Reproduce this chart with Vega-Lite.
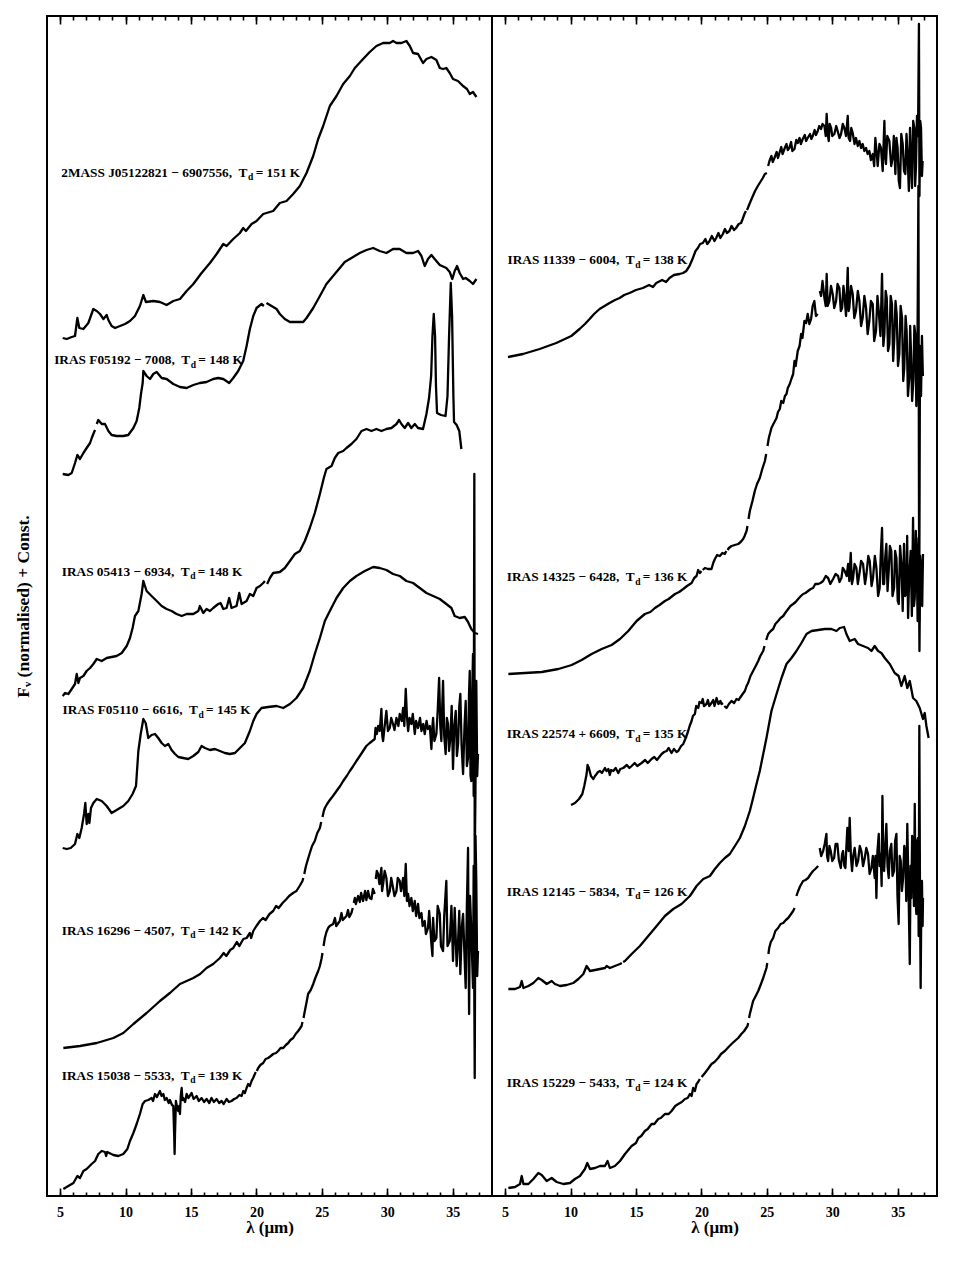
{
"$schema": "https://vega.github.io/schema/vega-lite/v6.json",
"background": "white",
"padding": {"left": 13, "top": 14, "right": 16, "bottom": 30},
"spacing": 0,
"bounds": "flush",
"config": {
  "view": {"stroke": "black", "strokeWidth": 2},
  "font": "Liberation Serif",
  "axis": {"grid": false, "domain": false, "ticks": true, "tickColor": "black", "tickWidth": 1.6, "labelFont": "Liberation Serif", "labelFontWeight": "bold", "labelFontSize": 14, "labelColor": "black", "titleFont": "Liberation Serif", "titleFontWeight": "bold", "titleColor": "black"}
},
"datasets": {
"left": [
{"s":"L1","x":5.2,"y":858},{"s":"L1","x":5.51,"y":857},{"s":"L1","x":5.89,"y":859},{"s":"L1","x":6.14,"y":860},{"s":"L1","x":6.32,"y":878},{"s":"L1","x":6.47,"y":868},{"s":"L1","x":6.78,"y":867},{"s":"L1","x":7.16,"y":873},{"s":"L1","x":7.54,"y":887},{"s":"L1","x":7.8,"y":885},{"s":"L1","x":8.05,"y":882},{"s":"L1","x":8.31,"y":877},{"s":"L1","x":8.56,"y":881},{"s":"L1","x":8.69,"y":876},{"s":"L1","x":8.94,"y":870},{"s":"L1","x":9.2,"y":868},{"s":"L1","x":9.58,"y":870},{"s":"L1","x":9.96,"y":872},{"s":"L1","x":10.34,"y":875},{"s":"L1","x":10.72,"y":880},{"s":"L1","x":11.1,"y":890},{"s":"L1","x":11.36,"y":901},{"s":"L1","x":11.56,"y":894},{"s":"L1","x":12.12,"y":895},{"s":"L1","x":12.63,"y":894},{"s":"L1","x":13.14,"y":891},{"s":"L1","x":13.65,"y":895},{"s":"L1","x":14.16,"y":897},{"s":"L1","x":14.67,"y":905},{"s":"L1","x":15.18,"y":912},{"s":"L1","x":15.81,"y":923},{"s":"L1","x":16.45,"y":933},{"s":"L1","x":16.96,"y":942},{"s":"L1","x":17.47,"y":952},{"s":"L1","x":17.72,"y":950},{"s":"L1","x":18.23,"y":957},{"s":"L1","x":18.74,"y":963},{"s":"L1","x":18.99,"y":968},{"s":"L1","x":19.2,"y":965},{"s":"L1","x":19.63,"y":972},{"s":"L1","x":20.01,"y":975},{"s":"L1","x":20.52,"y":982},{"s":"L1","x":20.77,"y":983},{"s":"L1","x":21.28,"y":985},{"s":"L1","x":21.79,"y":993},{"s":"L1","x":22.3,"y":995},{"s":"L1","x":22.81,"y":1002},{"s":"L1","x":23.32,"y":1010},{"s":"L1","x":23.83,"y":1023},{"s":"L1","x":24.34,"y":1040},{"s":"L1","x":24.72,"y":1057},{"s":"L1","x":25.1,"y":1070},{"s":"L1","x":25.61,"y":1090},{"s":"L1","x":26.12,"y":1100},{"s":"L1","x":26.63,"y":1112},{"s":"L1","x":27.14,"y":1120},{"s":"L1","x":27.52,"y":1128},{"s":"L1","x":28.15,"y":1137},{"s":"L1","x":28.66,"y":1144},{"s":"L1","x":29.17,"y":1150},{"s":"L1","x":29.68,"y":1153},{"s":"L1","x":30.19,"y":1153},{"s":"L1","x":30.44,"y":1155},{"s":"L1","x":30.7,"y":1153},{"s":"L1","x":31.08,"y":1153},{"s":"L1","x":31.46,"y":1155},{"s":"L1","x":31.72,"y":1150},{"s":"L1","x":31.97,"y":1143},{"s":"L1","x":32.35,"y":1142},{"s":"L1","x":32.73,"y":1133},{"s":"L1","x":32.99,"y":1137},{"s":"L1","x":33.37,"y":1139},{"s":"L1","x":33.75,"y":1136},{"s":"L1","x":34.01,"y":1128},{"s":"L1","x":34.26,"y":1127},{"s":"L1","x":34.51,"y":1128},{"s":"L1","x":34.77,"y":1123},{"s":"L1","x":35.02,"y":1117},{"s":"L1","x":35.4,"y":1115},{"s":"L1","x":35.79,"y":1110},{"s":"L1","x":36.09,"y":1107},{"s":"L1","x":36.3,"y":1102},{"s":"L1","x":36.55,"y":1104},{"s":"L1","x":36.81,"y":1099},
{"s":"L2","x":5.2,"y":722},{"s":"L2","x":5.63,"y":721},{"s":"L2","x":5.89,"y":723},{"s":"L2","x":6.14,"y":733},{"s":"L2","x":6.32,"y":741},{"s":"L2","x":6.52,"y":737},{"s":"L2","x":6.78,"y":743},{"s":"L2","x":7.03,"y":748},{"s":"L2","x":7.29,"y":753},{"s":"L2","x":7.42,"y":758},{"s":"L2","x":7.54,"y":762},{"s":"L2","x":7.67,"y":766},{"s":"L2","x":7.73,"y":null},{"s":"L2","x":7.8,"y":772},{"s":"L2","x":7.92,"y":776},{"s":"L2","x":8.18,"y":772},{"s":"L2","x":8.43,"y":772},{"s":"L2","x":8.69,"y":765},{"s":"L2","x":8.94,"y":761},{"s":"L2","x":9.32,"y":760},{"s":"L2","x":9.83,"y":760},{"s":"L2","x":10.21,"y":761},{"s":"L2","x":10.6,"y":768},{"s":"L2","x":10.85,"y":775},{"s":"L2","x":11.05,"y":788},{"s":"L2","x":11.18,"y":802},{"s":"L2","x":11.31,"y":813},{"s":"L2","x":11.36,"y":825},{"s":"L2","x":11.61,"y":820},{"s":"L2","x":11.87,"y":817},{"s":"L2","x":12.12,"y":822},{"s":"L2","x":12.38,"y":824},{"s":"L2","x":12.76,"y":818},{"s":"L2","x":13.14,"y":817},{"s":"L2","x":13.65,"y":812},{"s":"L2","x":14.16,"y":809},{"s":"L2","x":14.67,"y":808},{"s":"L2","x":15.18,"y":811},{"s":"L2","x":15.68,"y":813},{"s":"L2","x":16.19,"y":814},{"s":"L2","x":16.7,"y":817},{"s":"L2","x":17.08,"y":818},{"s":"L2","x":17.47,"y":817},{"s":"L2","x":17.92,"y":813},{"s":"L2","x":18.23,"y":818},{"s":"L2","x":18.61,"y":825},{"s":"L2","x":18.99,"y":835},{"s":"L2","x":19.25,"y":850},{"s":"L2","x":19.5,"y":867},{"s":"L2","x":19.76,"y":880},{"s":"L2","x":20.01,"y":888},{"s":"L2","x":20.39,"y":892},{"s":"L2","x":20.57,"y":890},{"s":"L2","x":20.67,"y":null},{"s":"L2","x":20.77,"y":893},{"s":"L2","x":21.16,"y":890},{"s":"L2","x":21.54,"y":887},{"s":"L2","x":21.79,"y":882},{"s":"L2","x":22.17,"y":877},{"s":"L2","x":22.56,"y":874},{"s":"L2","x":23.06,"y":874},{"s":"L2","x":23.57,"y":874},{"s":"L2","x":23.83,"y":878},{"s":"L2","x":24.34,"y":888},{"s":"L2","x":24.85,"y":900},{"s":"L2","x":25.35,"y":912},{"s":"L2","x":25.86,"y":920},{"s":"L2","x":26.37,"y":928},{"s":"L2","x":26.75,"y":934},{"s":"L2","x":27.26,"y":938},{"s":"L2","x":27.9,"y":943},{"s":"L2","x":28.41,"y":946},{"s":"L2","x":28.92,"y":948},{"s":"L2","x":29.42,"y":945},{"s":"L2","x":29.93,"y":943},{"s":"L2","x":30.44,"y":947},{"s":"L2","x":30.95,"y":947},{"s":"L2","x":31.46,"y":943},{"s":"L2","x":31.97,"y":943},{"s":"L2","x":32.35,"y":945},{"s":"L2","x":32.61,"y":940},{"s":"L2","x":32.86,"y":930},{"s":"L2","x":33.11,"y":937},{"s":"L2","x":33.37,"y":941},{"s":"L2","x":33.62,"y":937},{"s":"L2","x":34.01,"y":931},{"s":"L2","x":34.51,"y":928},{"s":"L2","x":34.77,"y":924},{"s":"L2","x":34.97,"y":917},{"s":"L2","x":35.15,"y":925},{"s":"L2","x":35.33,"y":930},{"s":"L2","x":35.53,"y":923},{"s":"L2","x":35.79,"y":917},{"s":"L2","x":35.99,"y":918},{"s":"L2","x":36.3,"y":915},{"s":"L2","x":36.55,"y":912},{"s":"L2","x":36.81,"y":917},
{"s":"L3","x":5.2,"y":500},{"s":"L3","x":5.38,"y":503},{"s":"L3","x":5.63,"y":502},{"s":"L3","x":5.89,"y":507},{"s":"L3","x":6.14,"y":512},{"s":"L3","x":6.27,"y":522},{"s":"L3","x":6.4,"y":513},{"s":"L3","x":6.52,"y":518},{"s":"L3","x":6.78,"y":520},{"s":"L3","x":7.03,"y":525},{"s":"L3","x":7.29,"y":528},{"s":"L3","x":7.54,"y":532},{"s":"L3","x":7.8,"y":537},{"s":"L3","x":8.18,"y":535},{"s":"L3","x":8.56,"y":538},{"s":"L3","x":8.94,"y":539},{"s":"L3","x":9.32,"y":540},{"s":"L3","x":9.71,"y":543},{"s":"L3","x":10.09,"y":550},{"s":"L3","x":10.34,"y":558},{"s":"L3","x":10.54,"y":568},{"s":"L3","x":10.72,"y":580},{"s":"L3","x":10.98,"y":585},{"s":"L3","x":11.23,"y":602},{"s":"L3","x":11.36,"y":615},{"s":"L3","x":11.61,"y":605},{"s":"L3","x":11.99,"y":600},{"s":"L3","x":12.38,"y":595},{"s":"L3","x":12.76,"y":590},{"s":"L3","x":13.14,"y":587},{"s":"L3","x":13.52,"y":585},{"s":"L3","x":13.9,"y":582},{"s":"L3","x":14.29,"y":580},{"s":"L3","x":14.67,"y":582},{"s":"L3","x":15.18,"y":582},{"s":"L3","x":15.56,"y":585},{"s":"L3","x":15.68,"y":590},{"s":"L3","x":15.94,"y":583},{"s":"L3","x":16.19,"y":587},{"s":"L3","x":16.45,"y":585},{"s":"L3","x":16.7,"y":588},{"s":"L3","x":17.08,"y":592},{"s":"L3","x":17.26,"y":593},{"s":"L3","x":17.47,"y":587},{"s":"L3","x":17.72,"y":588},{"s":"L3","x":17.92,"y":598},{"s":"L3","x":18.1,"y":588},{"s":"L3","x":18.48,"y":590},{"s":"L3","x":18.69,"y":603},{"s":"L3","x":18.87,"y":592},{"s":"L3","x":19.25,"y":595},{"s":"L3","x":19.5,"y":602},{"s":"L3","x":19.76,"y":600},{"s":"L3","x":20.01,"y":608},{"s":"L3","x":20.27,"y":610},{"s":"L3","x":20.52,"y":613},{"s":"L3","x":20.65,"y":615},{"s":"L3","x":20.73,"y":null},{"s":"L3","x":20.82,"y":612},{"s":"L3","x":21.03,"y":618},{"s":"L3","x":21.28,"y":623},{"s":"L3","x":21.79,"y":624},{"s":"L3","x":22.17,"y":628},{"s":"L3","x":22.56,"y":635},{"s":"L3","x":22.94,"y":642},{"s":"L3","x":23.32,"y":645},{"s":"L3","x":23.7,"y":655},{"s":"L3","x":24.08,"y":668},{"s":"L3","x":24.46,"y":683},{"s":"L3","x":24.85,"y":702},{"s":"L3","x":25.15,"y":718},{"s":"L3","x":25.35,"y":727},{"s":"L3","x":25.74,"y":730},{"s":"L3","x":25.99,"y":738},{"s":"L3","x":26.25,"y":743},{"s":"L3","x":26.63,"y":745},{"s":"L3","x":26.88,"y":748},{"s":"L3","x":27.26,"y":752},{"s":"L3","x":27.64,"y":757},{"s":"L3","x":28.03,"y":765},{"s":"L3","x":28.41,"y":767},{"s":"L3","x":28.79,"y":765},{"s":"L3","x":29.17,"y":767},{"s":"L3","x":29.55,"y":765},{"s":"L3","x":29.93,"y":767},{"s":"L3","x":30.32,"y":768},{"s":"L3","x":30.7,"y":772},{"s":"L3","x":30.9,"y":776},{"s":"L3","x":31.08,"y":772},{"s":"L3","x":31.33,"y":768},{"s":"L3","x":31.59,"y":773},{"s":"L3","x":31.84,"y":768},{"s":"L3","x":32.1,"y":772},{"s":"L3","x":32.35,"y":768},{"s":"L3","x":32.73,"y":767},{"s":"L3","x":32.99,"y":782},{"s":"L3","x":33.19,"y":798},{"s":"L3","x":33.35,"y":820},{"s":"L3","x":33.45,"y":860},{"s":"L3","x":33.55,"y":882},{"s":"L3","x":33.65,"y":860},{"s":"L3","x":33.72,"y":810},{"s":"L3","x":33.8,"y":783},{"s":"L3","x":34.1,"y":781},{"s":"L3","x":34.45,"y":780},{"s":"L3","x":34.6,"y":800},{"s":"L3","x":34.72,"y":860},{"s":"L3","x":34.85,"y":913},{"s":"L3","x":34.95,"y":880},{"s":"L3","x":35.05,"y":800},{"s":"L3","x":35.1,"y":774},{"s":"L3","x":35.3,"y":771},{"s":"L3","x":35.5,"y":765},{"s":"L3","x":35.66,"y":747},
{"s":"L4","x":5.2,"y":348},{"s":"L4","x":5.51,"y":347},{"s":"L4","x":5.81,"y":348},{"s":"L4","x":6.14,"y":352},{"s":"L4","x":6.32,"y":362},{"s":"L4","x":6.47,"y":358},{"s":"L4","x":6.65,"y":368},{"s":"L4","x":6.83,"y":382},{"s":"L4","x":6.93,"y":393},{"s":"L4","x":7.03,"y":372},{"s":"L4","x":7.16,"y":382},{"s":"L4","x":7.24,"y":373},{"s":"L4","x":7.36,"y":388},{"s":"L4","x":7.54,"y":393},{"s":"L4","x":7.8,"y":397},{"s":"L4","x":8.18,"y":395},{"s":"L4","x":8.56,"y":390},{"s":"L4","x":8.94,"y":383},{"s":"L4","x":9.32,"y":386},{"s":"L4","x":9.83,"y":390},{"s":"L4","x":10.21,"y":395},{"s":"L4","x":10.54,"y":402},{"s":"L4","x":10.8,"y":410},{"s":"L4","x":10.98,"y":445},{"s":"L4","x":11.16,"y":462},{"s":"L4","x":11.36,"y":477},{"s":"L4","x":11.54,"y":473},{"s":"L4","x":11.74,"y":458},{"s":"L4","x":11.99,"y":461},{"s":"L4","x":12.25,"y":462},{"s":"L4","x":12.5,"y":458},{"s":"L4","x":12.76,"y":453},{"s":"L4","x":13.01,"y":450},{"s":"L4","x":13.27,"y":452},{"s":"L4","x":13.52,"y":446},{"s":"L4","x":13.78,"y":442},{"s":"L4","x":14.03,"y":439},{"s":"L4","x":14.41,"y":438},{"s":"L4","x":14.79,"y":437},{"s":"L4","x":15.18,"y":440},{"s":"L4","x":15.56,"y":444},{"s":"L4","x":15.81,"y":450},{"s":"L4","x":16.07,"y":448},{"s":"L4","x":16.45,"y":446},{"s":"L4","x":16.83,"y":447},{"s":"L4","x":17.21,"y":445},{"s":"L4","x":17.59,"y":443},{"s":"L4","x":17.97,"y":442},{"s":"L4","x":18.36,"y":443},{"s":"L4","x":18.74,"y":448},{"s":"L4","x":19.12,"y":453},{"s":"L4","x":19.5,"y":465},{"s":"L4","x":19.76,"y":475},{"s":"L4","x":20.01,"y":482},{"s":"L4","x":20.39,"y":488},{"s":"L4","x":20.9,"y":489},{"s":"L4","x":21.54,"y":490},{"s":"L4","x":22.05,"y":488},{"s":"L4","x":22.56,"y":492},{"s":"L4","x":23.06,"y":498},{"s":"L4","x":23.57,"y":508},{"s":"L4","x":24.08,"y":525},{"s":"L4","x":24.46,"y":542},{"s":"L4","x":24.85,"y":558},{"s":"L4","x":25.23,"y":575},{"s":"L4","x":25.61,"y":585},{"s":"L4","x":26.12,"y":598},{"s":"L4","x":26.63,"y":608},{"s":"L4","x":27.14,"y":615},{"s":"L4","x":27.64,"y":620},{"s":"L4","x":28.28,"y":625},{"s":"L4","x":28.92,"y":629},{"s":"L4","x":29.42,"y":628},{"s":"L4","x":29.93,"y":626},{"s":"L4","x":30.44,"y":622},{"s":"L4","x":30.95,"y":620},{"s":"L4","x":31.46,"y":615},{"s":"L4","x":31.97,"y":613},{"s":"L4","x":32.48,"y":608},{"s":"L4","x":32.99,"y":603},{"s":"L4","x":33.5,"y":600},{"s":"L4","x":34.01,"y":597},{"s":"L4","x":34.51,"y":592},{"s":"L4","x":34.9,"y":588},{"s":"L4","x":35.15,"y":580},{"s":"L4","x":35.53,"y":578},{"s":"L4","x":35.92,"y":579},{"s":"L4","x":36.17,"y":574},{"s":"L4","x":36.42,"y":567},{"s":"L4","x":36.68,"y":563},{"s":"L4","x":36.93,"y":562},
{"s":"L5","x":5.25,"y":148},{"s":"L5","x":6.52,"y":150},{"s":"L5","x":7.8,"y":153},{"s":"L5","x":9.07,"y":158},{"s":"L5","x":9.83,"y":163},{"s":"L5","x":10.6,"y":172},{"s":"L5","x":11.61,"y":183},{"s":"L5","x":12.63,"y":195},{"s":"L5","x":13.39,"y":203},{"s":"L5","x":14.16,"y":212},{"s":"L5","x":15.18,"y":218},{"s":"L5","x":15.7,"y":222},{"s":"L5","x":16.19,"y":228},{"s":"L5","x":16.7,"y":232},{"s":"L5","x":17.21,"y":238},{"s":"L5","x":17.5,"y":243},{"s":"L5","x":17.7,"y":240},{"s":"L5","x":18.0,"y":246},{"s":"L5","x":18.23,"y":248},{"s":"L5","x":18.5,"y":254},{"s":"L5","x":18.7,"y":250},{"s":"L5","x":19.0,"y":257},{"s":"L5","x":19.25,"y":258},{"s":"L5","x":19.5,"y":263},{"s":"L5","x":19.6,"y":258},{"s":"L5","x":19.76,"y":265},{"s":"L5","x":20.0,"y":270},{"s":"L5","x":20.27,"y":275},{"s":"L5","x":20.5,"y":278},{"s":"L5","x":20.7,"y":276},{"s":"L5","x":21.0,"y":282},{"s":"L5","x":21.28,"y":285},{"s":"L5","x":21.5,"y":290},{"s":"L5","x":21.7,"y":288},{"s":"L5","x":22.0,"y":293},{"s":"L5","x":22.3,"y":297},{"s":"L5","x":22.5,"y":300},{"s":"L5","x":22.8,"y":303},{"s":"L5","x":23.06,"y":305},{"s":"L5","x":23.3,"y":310},{"s":"L5","x":23.52,"y":315},{"s":"L5","x":23.58,"y":318},{"s":"L5","x":23.62,"y":null},{"s":"L5","x":23.66,"y":322},{"s":"L5","x":23.75,"y":328},{"s":"L5","x":23.83,"y":332},{"s":"L5","x":24.08,"y":343},{"s":"L5","x":24.25,"y":350},{"s":"L5","x":24.46,"y":355},{"s":"L5","x":24.65,"y":363},{"s":"L5","x":24.85,"y":368},{"s":"L5","x":24.95,"y":374},{"s":"L5","x":25.0,"y":null},{"s":"L5","x":25.05,"y":379},{"s":"L5","x":25.15,"y":385},{"s":"L5","x":25.23,"y":388},{"s":"L5","x":25.4,"y":392},{"s":"L5","x":25.61,"y":396},{"s":"L5","x":25.85,"y":400},{"s":"L5","x":26.12,"y":405},{"s":"L5","x":26.4,"y":410},{"s":"L5","x":26.63,"y":415},{"s":"L5","x":26.9,"y":420},{"s":"L5","x":27.14,"y":425},{"s":"L5","x":27.4,"y":430},{"s":"L5","x":27.64,"y":435},{"s":"L5","x":27.9,"y":440},{"s":"L5","x":28.15,"y":445},{"s":"L5","x":28.4,"y":450},{"s":"L5","x":28.66,"y":453},{"s":"L5","x":28.85,"y":455},{"s":"L5","x":29.04,"y":457},{"s":"L5","x":29.1,"y":468},{"s":"L5","x":29.2,"y":462},{"s":"L5","x":29.3,"y":470},{"s":"L5","x":29.42,"y":465},{"s":"L5","x":29.55,"y":487},{"s":"L5","x":29.62,"y":460},{"s":"L5","x":29.68,"y":455},{"s":"L5","x":29.8,"y":470},{"s":"L5","x":29.93,"y":485},{"s":"L5","x":30.05,"y":465},{"s":"L5","x":30.19,"y":468},{"s":"L5","x":30.3,"y":478},{"s":"L5","x":30.44,"y":472},{"s":"L5","x":30.55,"y":466},{"s":"L5","x":30.7,"y":478},{"s":"L5","x":30.85,"y":470},{"s":"L5","x":30.95,"y":482},{"s":"L5","x":31.1,"y":475},{"s":"L5","x":31.21,"y":488},{"s":"L5","x":31.3,"y":470},{"s":"L5","x":31.41,"y":507},{"s":"L5","x":31.5,"y":480},{"s":"L5","x":31.59,"y":465},{"s":"L5","x":31.7,"y":478},{"s":"L5","x":31.84,"y":472},{"s":"L5","x":31.95,"y":482},{"s":"L5","x":32.1,"y":462},{"s":"L5","x":32.2,"y":475},{"s":"L5","x":32.35,"y":468},{"s":"L5","x":32.5,"y":478},{"s":"L5","x":32.61,"y":465},{"s":"L5","x":32.75,"y":472},{"s":"L5","x":32.86,"y":462},{"s":"L5","x":33.0,"y":475},{"s":"L5","x":33.11,"y":467},{"s":"L5","x":33.25,"y":470},{"s":"L5","x":33.37,"y":447},{"s":"L5","x":33.45,"y":470},{"s":"L5","x":33.5,"y":478},{"s":"L5","x":33.6,"y":455},{"s":"L5","x":33.75,"y":462},{"s":"L5","x":33.85,"y":485},{"s":"L5","x":33.96,"y":518},{"s":"L5","x":34.05,"y":470},{"s":"L5","x":34.13,"y":455},{"s":"L5","x":34.2,"y":490},{"s":"L5","x":34.26,"y":515},{"s":"L5","x":34.35,"y":460},{"s":"L5","x":34.46,"y":442},{"s":"L5","x":34.55,"y":478},{"s":"L5","x":34.64,"y":472},{"s":"L5","x":34.72,"y":445},{"s":"L5","x":34.82,"y":458},{"s":"L5","x":34.92,"y":490},{"s":"L5","x":35.02,"y":427},{"s":"L5","x":35.12,"y":470},{"s":"L5","x":35.23,"y":485},{"s":"L5","x":35.32,"y":440},{"s":"L5","x":35.41,"y":452},{"s":"L5","x":35.5,"y":490},{"s":"L5","x":35.58,"y":502},{"s":"L5","x":35.68,"y":450},{"s":"L5","x":35.79,"y":422},{"s":"L5","x":35.9,"y":470},{"s":"L5","x":35.99,"y":495},{"s":"L5","x":36.08,"y":430},{"s":"L5","x":36.17,"y":438},{"s":"L5","x":36.24,"y":500},{"s":"L5","x":36.3,"y":525},{"s":"L5","x":36.36,"y":420},{"s":"L5","x":36.42,"y":415},{"s":"L5","x":36.48,"y":500},{"s":"L5","x":36.55,"y":542},{"s":"L5","x":36.6,"y":400},{"s":"L5","x":36.65,"y":722},{"s":"L5","x":36.68,"y":330},{"s":"L5","x":36.73,"y":398},{"s":"L5","x":36.8,"y":515},{"s":"L5","x":36.87,"y":420},{"s":"L5","x":36.93,"y":442},
{"s":"L6","x":5.25,"y":7},{"s":"L6","x":5.63,"y":10},{"s":"L6","x":6.02,"y":13},{"s":"L6","x":6.32,"y":20},{"s":"L6","x":6.52,"y":18},{"s":"L6","x":6.78,"y":25},{"s":"L6","x":7.03,"y":27},{"s":"L6","x":7.41,"y":32},{"s":"L6","x":7.67,"y":35},{"s":"L6","x":7.92,"y":42},{"s":"L6","x":8.18,"y":45},{"s":"L6","x":8.43,"y":44},{"s":"L6","x":8.52,"y":40},{"s":"L6","x":8.6,"y":44},{"s":"L6","x":9.07,"y":41},{"s":"L6","x":9.45,"y":40},{"s":"L6","x":9.83,"y":42},{"s":"L6","x":10.14,"y":47},{"s":"L6","x":10.34,"y":55},{"s":"L6","x":10.6,"y":63},{"s":"L6","x":10.85,"y":72},{"s":"L6","x":11.1,"y":82},{"s":"L6","x":11.31,"y":92},{"s":"L6","x":11.49,"y":95},{"s":"L6","x":11.74,"y":96},{"s":"L6","x":11.99,"y":98},{"s":"L6","x":12.1,"y":95},{"s":"L6","x":12.25,"y":102},{"s":"L6","x":12.4,"y":99},{"s":"L6","x":12.63,"y":105},{"s":"L6","x":12.75,"y":100},{"s":"L6","x":12.89,"y":102},{"s":"L6","x":13.0,"y":96},{"s":"L6","x":13.14,"y":98},{"s":"L6","x":13.3,"y":93},{"s":"L6","x":13.39,"y":96},{"s":"L6","x":13.55,"y":91},{"s":"L6","x":13.65,"y":90},{"s":"L6","x":13.72,"y":60},{"s":"L6","x":13.75,"y":42},{"s":"L6","x":13.78,"y":62},{"s":"L6","x":13.85,"y":95},{"s":"L6","x":13.95,"y":88},{"s":"L6","x":14.03,"y":85},{"s":"L6","x":14.1,"y":90},{"s":"L6","x":14.16,"y":82},{"s":"L6","x":14.22,"y":100},{"s":"L6","x":14.29,"y":108},{"s":"L6","x":14.35,"y":96},{"s":"L6","x":14.41,"y":98},{"s":"L6","x":14.55,"y":94},{"s":"L6","x":14.67,"y":102},{"s":"L6","x":14.8,"y":98},{"s":"L6","x":15.05,"y":103},{"s":"L6","x":15.2,"y":97},{"s":"L6","x":15.43,"y":100},{"s":"L6","x":15.6,"y":95},{"s":"L6","x":15.81,"y":98},{"s":"L6","x":16.0,"y":94},{"s":"L6","x":16.19,"y":97},{"s":"L6","x":16.4,"y":93},{"s":"L6","x":16.57,"y":98},{"s":"L6","x":16.75,"y":94},{"s":"L6","x":16.96,"y":97},{"s":"L6","x":17.15,"y":93},{"s":"L6","x":17.34,"y":95},{"s":"L6","x":17.5,"y":92},{"s":"L6","x":17.72,"y":97},{"s":"L6","x":17.9,"y":94},{"s":"L6","x":18.1,"y":95},{"s":"L6","x":18.3,"y":97},{"s":"L6","x":18.48,"y":98},{"s":"L6","x":18.7,"y":101},{"s":"L6","x":18.87,"y":100},{"s":"L6","x":19.0,"y":105},{"s":"L6","x":19.12,"y":103},{"s":"L6","x":19.25,"y":108},{"s":"L6","x":19.37,"y":112},{"s":"L6","x":19.5,"y":110},{"s":"L6","x":19.63,"y":115},{"s":"L6","x":19.75,"y":118},{"s":"L6","x":19.88,"y":122},{"s":"L6","x":19.95,"y":124},{"s":"L6","x":19.99,"y":null},{"s":"L6","x":20.03,"y":125},{"s":"L6","x":20.14,"y":128},{"s":"L6","x":20.3,"y":131},{"s":"L6","x":20.52,"y":133},{"s":"L6","x":20.7,"y":137},{"s":"L6","x":20.9,"y":138},{"s":"L6","x":21.1,"y":140},{"s":"L6","x":21.28,"y":142},{"s":"L6","x":21.5,"y":143},{"s":"L6","x":21.66,"y":145},{"s":"L6","x":21.85,"y":148},{"s":"L6","x":22.05,"y":148},{"s":"L6","x":22.25,"y":151},{"s":"L6","x":22.43,"y":153},{"s":"L6","x":22.6,"y":156},{"s":"L6","x":22.81,"y":158},{"s":"L6","x":23.0,"y":162},{"s":"L6","x":23.19,"y":165},{"s":"L6","x":23.35,"y":168},{"s":"L6","x":23.45,"y":170},{"s":"L6","x":23.52,"y":174},{"s":"L6","x":23.56,"y":null},{"s":"L6","x":23.6,"y":178},{"s":"L6","x":23.7,"y":185},{"s":"L6","x":23.82,"y":193},{"s":"L6","x":23.95,"y":202},{"s":"L6","x":24.15,"y":206},{"s":"L6","x":24.34,"y":212},{"s":"L6","x":24.5,"y":218},{"s":"L6","x":24.72,"y":225},{"s":"L6","x":24.85,"y":230},{"s":"L6","x":24.97,"y":237},{"s":"L6","x":25.05,"y":243},{"s":"L6","x":25.09,"y":null},{"s":"L6","x":25.13,"y":250},{"s":"L6","x":25.23,"y":258},{"s":"L6","x":25.35,"y":264},{"s":"L6","x":25.48,"y":268},{"s":"L6","x":25.6,"y":270},{"s":"L6","x":25.86,"y":272},{"s":"L6","x":26.0,"y":278},{"s":"L6","x":26.1,"y":270},{"s":"L6","x":26.37,"y":275},{"s":"L6","x":26.5,"y":283},{"s":"L6","x":26.6,"y":276},{"s":"L6","x":26.88,"y":280},{"s":"L6","x":27.0,"y":286},{"s":"L6","x":27.1,"y":279},{"s":"L6","x":27.26,"y":283},{"s":"L6","x":27.36,"y":288},{"s":"L6","x":27.4,"y":null},{"s":"L6","x":27.44,"y":293},{"s":"L6","x":27.52,"y":298},{"s":"L6","x":27.6,"y":292},{"s":"L6","x":27.77,"y":300},{"s":"L6","x":27.9,"y":294},{"s":"L6","x":28.0,"y":303},{"s":"L6","x":28.15,"y":295},{"s":"L6","x":28.3,"y":305},{"s":"L6","x":28.4,"y":296},{"s":"L6","x":28.53,"y":305},{"s":"L6","x":28.65,"y":298},{"s":"L6","x":28.79,"y":297},{"s":"L6","x":28.9,"y":307},{"s":"L6","x":29.04,"y":302},{"s":"L6","x":29.08,"y":null},{"s":"L6","x":29.12,"y":317},{"s":"L6","x":29.2,"y":325},{"s":"L6","x":29.3,"y":322},{"s":"L6","x":29.4,"y":312},{"s":"L6","x":29.55,"y":328},{"s":"L6","x":29.6,"y":305},{"s":"L6","x":29.68,"y":312},{"s":"L6","x":29.8,"y":325},{"s":"L6","x":29.93,"y":318},{"s":"L6","x":30.05,"y":300},{"s":"L6","x":30.19,"y":305},{"s":"L6","x":30.3,"y":318},{"s":"L6","x":30.44,"y":308},{"s":"L6","x":30.55,"y":300},{"s":"L6","x":30.7,"y":305},{"s":"L6","x":30.8,"y":318},{"s":"L6","x":30.95,"y":315},{"s":"L6","x":31.05,"y":305},{"s":"L6","x":31.21,"y":318},{"s":"L6","x":31.3,"y":300},{"s":"L6","x":31.41,"y":332},{"s":"L6","x":31.5,"y":295},{"s":"L6","x":31.59,"y":302},{"s":"L6","x":31.7,"y":290},{"s":"L6","x":31.84,"y":298},{"s":"L6","x":31.95,"y":285},{"s":"L6","x":32.1,"y":295},{"s":"L6","x":32.2,"y":280},{"s":"L6","x":32.35,"y":292},{"s":"L6","x":32.45,"y":278},{"s":"L6","x":32.61,"y":283},{"s":"L6","x":32.7,"y":270},{"s":"L6","x":32.86,"y":275},{"s":"L6","x":32.95,"y":262},{"s":"L6","x":33.11,"y":268},{"s":"L6","x":33.2,"y":285},{"s":"L6","x":33.37,"y":252},{"s":"L6","x":33.45,"y":240},{"s":"L6","x":33.5,"y":278},{"s":"L6","x":33.6,"y":255},{"s":"L6","x":33.75,"y":258},{"s":"L6","x":33.85,"y":290},{"s":"L6","x":34.01,"y":282},{"s":"L6","x":34.1,"y":250},{"s":"L6","x":34.26,"y":245},{"s":"L6","x":34.35,"y":280},{"s":"L6","x":34.51,"y":315},{"s":"L6","x":34.6,"y":250},{"s":"L6","x":34.77,"y":255},{"s":"L6","x":34.9,"y":290},{"s":"L6","x":35.02,"y":235},{"s":"L6","x":35.15,"y":288},{"s":"L6","x":35.3,"y":230},{"s":"L6","x":35.41,"y":255},{"s":"L6","x":35.5,"y":285},{"s":"L6","x":35.58,"y":222},{"s":"L6","x":35.7,"y":270},{"s":"L6","x":35.79,"y":282},{"s":"L6","x":35.9,"y":240},{"s":"L6","x":35.99,"y":208},{"s":"L6","x":36.08,"y":290},{"s":"L6","x":36.17,"y":348},{"s":"L6","x":36.22,"y":230},{"s":"L6","x":36.25,"y":182},{"s":"L6","x":36.32,"y":300},{"s":"L6","x":36.42,"y":265},{"s":"L6","x":36.5,"y":230},{"s":"L6","x":36.55,"y":208},{"s":"L6","x":36.6,"y":330},{"s":"L6","x":36.68,"y":118},{"s":"L6","x":36.74,"y":360},{"s":"L6","x":36.8,"y":315},{"s":"L6","x":36.87,"y":220},{"s":"L6","x":36.93,"y":245}
],
"right": [
{"s":"R1","x":5.22,"y":839},{"s":"R1","x":6.37,"y":842},{"s":"R1","x":7.64,"y":847},{"s":"R1","x":8.91,"y":853},{"s":"R1","x":10.06,"y":860},{"s":"R1","x":10.69,"y":867},{"s":"R1","x":11.1,"y":872},{"s":"R1","x":11.46,"y":877},{"s":"R1","x":11.8,"y":882},{"s":"R1","x":12.22,"y":887},{"s":"R1","x":12.6,"y":890},{"s":"R1","x":12.98,"y":893},{"s":"R1","x":13.4,"y":896},{"s":"R1","x":13.75,"y":898},{"s":"R1","x":14.1,"y":901},{"s":"R1","x":14.51,"y":903},{"s":"R1","x":15.0,"y":906},{"s":"R1","x":15.53,"y":908},{"s":"R1","x":16.0,"y":911},{"s":"R1","x":16.3,"y":909},{"s":"R1","x":16.55,"y":913},{"s":"R1","x":17.0,"y":916},{"s":"R1","x":17.3,"y":914},{"s":"R1","x":17.56,"y":918},{"s":"R1","x":17.9,"y":921},{"s":"R1","x":18.33,"y":922},{"s":"R1","x":18.6,"y":923},{"s":"R1","x":18.84,"y":925},{"s":"R1","x":19.09,"y":930},{"s":"R1","x":19.35,"y":938},{"s":"R1","x":19.55,"y":945},{"s":"R1","x":19.73,"y":948},{"s":"R1","x":19.9,"y":952},{"s":"R1","x":20.11,"y":953},{"s":"R1","x":20.3,"y":957},{"s":"R1","x":20.45,"y":952},{"s":"R1","x":20.62,"y":955},{"s":"R1","x":20.8,"y":960},{"s":"R1","x":21.0,"y":955},{"s":"R1","x":21.13,"y":958},{"s":"R1","x":21.3,"y":963},{"s":"R1","x":21.45,"y":958},{"s":"R1","x":21.64,"y":962},{"s":"R1","x":21.8,"y":967},{"s":"R1","x":21.95,"y":963},{"s":"R1","x":22.14,"y":965},{"s":"R1","x":22.3,"y":970},{"s":"R1","x":22.5,"y":966},{"s":"R1","x":22.65,"y":968},{"s":"R1","x":22.85,"y":972},{"s":"R1","x":23.03,"y":973},{"s":"R1","x":23.15,"y":977},{"s":"R1","x":23.29,"y":982},{"s":"R1","x":23.4,"y":985},{"s":"R1","x":23.44,"y":null},{"s":"R1","x":23.48,"y":986},{"s":"R1","x":23.55,"y":988},{"s":"R1","x":23.67,"y":992},{"s":"R1","x":23.8,"y":996},{"s":"R1","x":23.93,"y":1000},{"s":"R1","x":24.1,"y":1005},{"s":"R1","x":24.31,"y":1010},{"s":"R1","x":24.5,"y":1014},{"s":"R1","x":24.69,"y":1018},{"s":"R1","x":24.85,"y":1022},{"s":"R1","x":25.0,"y":1023},{"s":"R1","x":25.06,"y":null},{"s":"R1","x":25.1,"y":1030},{"s":"R1","x":25.2,"y":1035},{"s":"R1","x":25.35,"y":1040},{"s":"R1","x":25.45,"y":1034},{"s":"R1","x":25.58,"y":1038},{"s":"R1","x":25.75,"y":1044},{"s":"R1","x":25.85,"y":1038},{"s":"R1","x":25.96,"y":1043},{"s":"R1","x":26.1,"y":1049},{"s":"R1","x":26.2,"y":1042},{"s":"R1","x":26.34,"y":1047},{"s":"R1","x":26.5,"y":1052},{"s":"R1","x":26.6,"y":1046},{"s":"R1","x":26.72,"y":1048},{"s":"R1","x":26.85,"y":1054},{"s":"R1","x":26.95,"y":1045},{"s":"R1","x":27.11,"y":1047},{"s":"R1","x":27.25,"y":1056},{"s":"R1","x":27.36,"y":1053},{"s":"R1","x":27.5,"y":1058},{"s":"R1","x":27.6,"y":1052},{"s":"R1","x":27.74,"y":1057},{"s":"R1","x":27.9,"y":1061},{"s":"R1","x":28.0,"y":1055},{"s":"R1","x":28.12,"y":1058},{"s":"R1","x":28.3,"y":1062},{"s":"R1","x":28.4,"y":1057},{"s":"R1","x":28.51,"y":1060},{"s":"R1","x":28.65,"y":1066},{"s":"R1","x":28.75,"y":1061},{"s":"R1","x":28.89,"y":1065},{"s":"R1","x":29.0,"y":1070},{"s":"R1","x":29.14,"y":1067},{"s":"R1","x":29.25,"y":1072},{"s":"R1","x":29.4,"y":1070},{"s":"R1","x":29.5,"y":1060},{"s":"R1","x":29.57,"y":1082},{"s":"R1","x":29.65,"y":1062},{"s":"R1","x":29.73,"y":1055},{"s":"R1","x":29.8,"y":1072},{"s":"R1","x":29.91,"y":1068},{"s":"R1","x":30.0,"y":1060},{"s":"R1","x":30.16,"y":1062},{"s":"R1","x":30.3,"y":1070},{"s":"R1","x":30.41,"y":1065},{"s":"R1","x":30.55,"y":1058},{"s":"R1","x":30.67,"y":1062},{"s":"R1","x":30.8,"y":1072},{"s":"R1","x":30.92,"y":1068},{"s":"R1","x":31.05,"y":1060},{"s":"R1","x":31.18,"y":1080},{"s":"R1","x":31.25,"y":1058},{"s":"R1","x":31.36,"y":1055},{"s":"R1","x":31.45,"y":1068},{"s":"R1","x":31.56,"y":1063},{"s":"R1","x":31.7,"y":1052},{"s":"R1","x":31.81,"y":1058},{"s":"R1","x":31.95,"y":1050},{"s":"R1","x":32.07,"y":1055},{"s":"R1","x":32.2,"y":1048},{"s":"R1","x":32.32,"y":1052},{"s":"R1","x":32.45,"y":1045},{"s":"R1","x":32.58,"y":1048},{"s":"R1","x":32.7,"y":1042},{"s":"R1","x":32.83,"y":1045},{"s":"R1","x":32.95,"y":1036},{"s":"R1","x":33.09,"y":1042},{"s":"R1","x":33.2,"y":1030},{"s":"R1","x":33.29,"y":1058},{"s":"R1","x":33.38,"y":1045},{"s":"R1","x":33.47,"y":1030},{"s":"R1","x":33.6,"y":1052},{"s":"R1","x":33.72,"y":1048},{"s":"R1","x":33.85,"y":1025},{"s":"R1","x":33.98,"y":1075},{"s":"R1","x":34.04,"y":1040},{"s":"R1","x":34.1,"y":1032},{"s":"R1","x":34.2,"y":1060},{"s":"R1","x":34.36,"y":1055},{"s":"R1","x":34.5,"y":1030},{"s":"R1","x":34.61,"y":1038},{"s":"R1","x":34.7,"y":1060},{"s":"R1","x":34.82,"y":1022},{"s":"R1","x":34.9,"y":1058},{"s":"R1","x":34.99,"y":1048},{"s":"R1","x":35.08,"y":1015},{"s":"R1","x":35.17,"y":1008},{"s":"R1","x":35.27,"y":1062},{"s":"R1","x":35.38,"y":1052},{"s":"R1","x":35.48,"y":1025},{"s":"R1","x":35.58,"y":1022},{"s":"R1","x":35.67,"y":1062},{"s":"R1","x":35.76,"y":1038},{"s":"R1","x":35.85,"y":1005},{"s":"R1","x":35.94,"y":1068},{"s":"R1","x":36.02,"y":1030},{"s":"R1","x":36.09,"y":1008},{"s":"R1","x":36.18,"y":1075},{"s":"R1","x":36.27,"y":1068},{"s":"R1","x":36.33,"y":1010},{"s":"R1","x":36.39,"y":1028},{"s":"R1","x":36.47,"y":1080},{"s":"R1","x":36.55,"y":1060},{"s":"R1","x":36.62,"y":1172},{"s":"R1","x":36.66,"y":1000},{"s":"R1","x":36.72,"y":1075},{"s":"R1","x":36.78,"y":1068},{"s":"R1","x":36.85,"y":1020},{"s":"R1","x":36.9,"y":1035},
{"s":"R2","x":5.25,"y":522},{"s":"R2","x":6.52,"y":523},{"s":"R2","x":7.8,"y":524},{"s":"R2","x":9.07,"y":527},{"s":"R2","x":10.09,"y":531},{"s":"R2","x":10.85,"y":536},{"s":"R2","x":11.61,"y":542},{"s":"R2","x":12.38,"y":547},{"s":"R2","x":13.14,"y":551},{"s":"R2","x":13.78,"y":557},{"s":"R2","x":14.41,"y":565},{"s":"R2","x":15.05,"y":575},{"s":"R2","x":15.68,"y":582},{"s":"R2","x":16.1,"y":584},{"s":"R2","x":16.45,"y":588},{"s":"R2","x":16.8,"y":591},{"s":"R2","x":17.21,"y":595},{"s":"R2","x":17.5,"y":597},{"s":"R2","x":17.98,"y":602},{"s":"R2","x":18.3,"y":604},{"s":"R2","x":18.61,"y":607},{"s":"R2","x":18.9,"y":610},{"s":"R2","x":19.25,"y":613},{"s":"R2","x":19.45,"y":618},{"s":"R2","x":19.63,"y":620},{"s":"R2","x":19.75,"y":626},{"s":"R2","x":19.88,"y":623},{"s":"R2","x":20.0,"y":625},{"s":"R2","x":20.05,"y":null},{"s":"R2","x":20.1,"y":626},{"s":"R2","x":20.27,"y":628},{"s":"R2","x":20.5,"y":627},{"s":"R2","x":20.77,"y":627},{"s":"R2","x":20.9,"y":633},{"s":"R2","x":21.03,"y":637},{"s":"R2","x":21.2,"y":641},{"s":"R2","x":21.41,"y":640},{"s":"R2","x":21.6,"y":643},{"s":"R2","x":21.79,"y":642},{"s":"R2","x":21.9,"y":645},{"s":"R2","x":21.95,"y":null},{"s":"R2","x":22.0,"y":646},{"s":"R2","x":22.1,"y":648},{"s":"R2","x":22.3,"y":650},{"s":"R2","x":22.55,"y":651},{"s":"R2","x":22.81,"y":652},{"s":"R2","x":23.0,"y":654},{"s":"R2","x":23.19,"y":657},{"s":"R2","x":23.3,"y":660},{"s":"R2","x":23.45,"y":665},{"s":"R2","x":23.52,"y":670},{"s":"R2","x":23.56,"y":null},{"s":"R2","x":23.6,"y":677},{"s":"R2","x":23.7,"y":685},{"s":"R2","x":23.9,"y":695},{"s":"R2","x":24.08,"y":705},{"s":"R2","x":24.25,"y":712},{"s":"R2","x":24.46,"y":718},{"s":"R2","x":24.65,"y":727},{"s":"R2","x":24.85,"y":735},{"s":"R2","x":24.95,"y":742},{"s":"R2","x":25.0,"y":null},{"s":"R2","x":25.05,"y":750},{"s":"R2","x":25.15,"y":758},{"s":"R2","x":25.35,"y":768},{"s":"R2","x":25.5,"y":772},{"s":"R2","x":25.74,"y":778},{"s":"R2","x":25.85,"y":784},{"s":"R2","x":25.99,"y":787},{"s":"R2","x":26.1,"y":795},{"s":"R2","x":26.25,"y":793},{"s":"R2","x":26.38,"y":800},{"s":"R2","x":26.5,"y":802},{"s":"R2","x":26.6,"y":808},{"s":"R2","x":26.75,"y":812},{"s":"R2","x":26.9,"y":818},{"s":"R2","x":27.01,"y":822},{"s":"R2","x":27.11,"y":835},{"s":"R2","x":27.2,"y":830},{"s":"R2","x":27.36,"y":845},{"s":"R2","x":27.5,"y":850},{"s":"R2","x":27.62,"y":862},{"s":"R2","x":27.72,"y":858},{"s":"R2","x":27.87,"y":875},{"s":"R2","x":28.0,"y":873},{"s":"R2","x":28.12,"y":882},{"s":"R2","x":28.25,"y":872},{"s":"R2","x":28.38,"y":877},{"s":"R2","x":28.5,"y":890},{"s":"R2","x":28.63,"y":895},{"s":"R2","x":28.75,"y":880},{"s":"R2","x":28.89,"y":882},{"s":"R2","x":28.98,"y":null},{"s":"R2","x":29.05,"y":905},{"s":"R2","x":29.14,"y":900},{"s":"R2","x":29.25,"y":915},{"s":"R2","x":29.4,"y":898},{"s":"R2","x":29.5,"y":890},{"s":"R2","x":29.57,"y":922},{"s":"R2","x":29.65,"y":890},{"s":"R2","x":29.78,"y":895},{"s":"R2","x":29.9,"y":910},{"s":"R2","x":30.03,"y":902},{"s":"R2","x":30.15,"y":888},{"s":"R2","x":30.29,"y":895},{"s":"R2","x":30.4,"y":912},{"s":"R2","x":30.54,"y":908},{"s":"R2","x":30.65,"y":885},{"s":"R2","x":30.75,"y":888},{"s":"R2","x":30.85,"y":910},{"s":"R2","x":30.92,"y":902},{"s":"R2","x":31.05,"y":880},{"s":"R2","x":31.18,"y":928},{"s":"R2","x":31.25,"y":885},{"s":"R2","x":31.3,"y":888},{"s":"R2","x":31.43,"y":910},{"s":"R2","x":31.56,"y":902},{"s":"R2","x":31.68,"y":878},{"s":"R2","x":31.81,"y":885},{"s":"R2","x":31.95,"y":905},{"s":"R2","x":32.07,"y":895},{"s":"R2","x":32.2,"y":870},{"s":"R2","x":32.32,"y":878},{"s":"R2","x":32.45,"y":900},{"s":"R2","x":32.58,"y":888},{"s":"R2","x":32.7,"y":862},{"s":"R2","x":32.83,"y":875},{"s":"R2","x":32.95,"y":895},{"s":"R2","x":33.09,"y":892},{"s":"R2","x":33.2,"y":855},{"s":"R2","x":33.34,"y":865},{"s":"R2","x":33.45,"y":900},{"s":"R2","x":33.55,"y":885},{"s":"R2","x":33.68,"y":860},{"s":"R2","x":33.8,"y":922},{"s":"R2","x":33.9,"y":850},{"s":"R2","x":33.98,"y":862},{"s":"R2","x":34.08,"y":905},{"s":"R2","x":34.16,"y":898},{"s":"R2","x":34.26,"y":845},{"s":"R2","x":34.36,"y":852},{"s":"R2","x":34.46,"y":900},{"s":"R2","x":34.56,"y":892},{"s":"R2","x":34.65,"y":835},{"s":"R2","x":34.74,"y":858},{"s":"R2","x":34.83,"y":895},{"s":"R2","x":34.92,"y":882},{"s":"R2","x":35.02,"y":830},{"s":"R2","x":35.12,"y":842},{"s":"R2","x":35.22,"y":890},{"s":"R2","x":35.33,"y":878},{"s":"R2","x":35.42,"y":815},{"s":"R2","x":35.5,"y":828},{"s":"R2","x":35.6,"y":880},{"s":"R2","x":35.68,"y":865},{"s":"R2","x":35.78,"y":800},{"s":"R2","x":35.88,"y":818},{"s":"R2","x":35.95,"y":870},{"s":"R2","x":36.01,"y":845},{"s":"R2","x":36.1,"y":795},{"s":"R2","x":36.19,"y":815},{"s":"R2","x":36.27,"y":870},{"s":"R2","x":36.34,"y":862},{"s":"R2","x":36.42,"y":790},{"s":"R2","x":36.5,"y":830},{"s":"R2","x":36.58,"y":1010},{"s":"R2","x":36.64,"y":575},{"s":"R2","x":36.7,"y":850},{"s":"R2","x":36.78,"y":800},{"s":"R2","x":36.85,"y":860},{"s":"R2","x":36.92,"y":820},
{"s":"R3","x":10.04,"y":391},{"s":"R3","x":10.34,"y":393},{"s":"R3","x":10.65,"y":397},{"s":"R3","x":10.9,"y":402},{"s":"R3","x":11.05,"y":410},{"s":"R3","x":11.23,"y":422},{"s":"R3","x":11.3,"y":431},{"s":"R3","x":11.4,"y":428},{"s":"R3","x":11.56,"y":420},{"s":"R3","x":11.74,"y":417},{"s":"R3","x":11.87,"y":420},{"s":"R3","x":11.99,"y":422},{"s":"R3","x":12.1,"y":424},{"s":"R3","x":12.25,"y":425},{"s":"R3","x":12.4,"y":423},{"s":"R3","x":12.63,"y":428},{"s":"R3","x":12.75,"y":425},{"s":"R3","x":12.89,"y":427},{"s":"R3","x":13.0,"y":421},{"s":"R3","x":13.1,"y":426},{"s":"R3","x":13.27,"y":425},{"s":"R3","x":13.45,"y":428},{"s":"R3","x":13.65,"y":423},{"s":"R3","x":13.8,"y":427},{"s":"R3","x":14.03,"y":428},{"s":"R3","x":14.3,"y":431},{"s":"R3","x":14.5,"y":428},{"s":"R3","x":14.67,"y":430},{"s":"R3","x":14.9,"y":433},{"s":"R3","x":15.1,"y":430},{"s":"R3","x":15.43,"y":433},{"s":"R3","x":15.7,"y":436},{"s":"R3","x":15.9,"y":433},{"s":"R3","x":16.19,"y":437},{"s":"R3","x":16.4,"y":439},{"s":"R3","x":16.6,"y":436},{"s":"R3","x":16.96,"y":442},{"s":"R3","x":17.15,"y":444},{"s":"R3","x":17.34,"y":445},{"s":"R3","x":17.5,"y":448},{"s":"R3","x":17.72,"y":443},{"s":"R3","x":17.9,"y":447},{"s":"R3","x":18.1,"y":444},{"s":"R3","x":18.23,"y":445},{"s":"R3","x":18.45,"y":450},{"s":"R3","x":18.61,"y":452},{"s":"R3","x":18.8,"y":458},{"s":"R3","x":18.99,"y":465},{"s":"R3","x":19.1,"y":470},{"s":"R3","x":19.25,"y":475},{"s":"R3","x":19.35,"y":480},{"s":"R3","x":19.5,"y":482},{"s":"R3","x":19.6,"y":490},{"s":"R3","x":19.76,"y":488},{"s":"R3","x":19.85,"y":494},{"s":"R3","x":20.01,"y":493},{"s":"R3","x":20.1,"y":497},{"s":"R3","x":20.2,"y":490},{"s":"R3","x":20.39,"y":492},{"s":"R3","x":20.5,"y":496},{"s":"R3","x":20.6,"y":490},{"s":"R3","x":20.77,"y":493},{"s":"R3","x":20.9,"y":496},{"s":"R3","x":21.0,"y":490},{"s":"R3","x":21.16,"y":498},{"s":"R3","x":21.3,"y":492},{"s":"R3","x":21.45,"y":495},{"s":"R3","x":21.54,"y":492},{"s":"R3","x":21.65,"y":493},{"s":"R3","x":21.7,"y":null},{"s":"R3","x":21.75,"y":490},{"s":"R3","x":21.92,"y":488},{"s":"R3","x":22.1,"y":492},{"s":"R3","x":22.3,"y":495},{"s":"R3","x":22.5,"y":493},{"s":"R3","x":22.68,"y":497},{"s":"R3","x":22.85,"y":496},{"s":"R3","x":22.94,"y":498},{"s":"R3","x":23.15,"y":502},{"s":"R3","x":23.32,"y":505},{"s":"R3","x":23.45,"y":510},{"s":"R3","x":23.57,"y":513},{"s":"R3","x":23.75,"y":520},{"s":"R3","x":23.95,"y":525},{"s":"R3","x":24.15,"y":530},{"s":"R3","x":24.34,"y":535},{"s":"R3","x":24.5,"y":540},{"s":"R3","x":24.72,"y":545},{"s":"R3","x":24.82,"y":550},{"s":"R3","x":24.87,"y":null},{"s":"R3","x":24.95,"y":556},{"s":"R3","x":25.1,"y":562},{"s":"R3","x":25.3,"y":565},{"s":"R3","x":25.48,"y":567},{"s":"R3","x":25.65,"y":572},{"s":"R3","x":25.86,"y":575},{"s":"R3","x":26.05,"y":578},{"s":"R3","x":26.25,"y":580},{"s":"R3","x":26.4,"y":583},{"s":"R3","x":26.63,"y":587},{"s":"R3","x":26.8,"y":590},{"s":"R3","x":27.01,"y":592},{"s":"R3","x":27.2,"y":594},{"s":"R3","x":27.39,"y":597},{"s":"R3","x":27.6,"y":600},{"s":"R3","x":27.77,"y":602},{"s":"R3","x":27.95,"y":603},{"s":"R3","x":28.15,"y":605},{"s":"R3","x":28.35,"y":607},{"s":"R3","x":28.53,"y":608},{"s":"R3","x":28.7,"y":612},{"s":"R3","x":28.92,"y":612},{"s":"R3","x":29.1,"y":613},{"s":"R3","x":29.3,"y":615},{"s":"R3","x":29.5,"y":620},{"s":"R3","x":29.68,"y":618},{"s":"R3","x":29.85,"y":612},{"s":"R3","x":30.06,"y":617},{"s":"R3","x":30.25,"y":622},{"s":"R3","x":30.44,"y":620},{"s":"R3","x":30.55,"y":614},{"s":"R3","x":30.7,"y":618},{"s":"R3","x":30.8,"y":628},{"s":"R3","x":30.95,"y":625},{"s":"R3","x":31.1,"y":620},{"s":"R3","x":31.21,"y":632},{"s":"R3","x":31.3,"y":615},{"s":"R3","x":31.41,"y":643},{"s":"R3","x":31.5,"y":612},{"s":"R3","x":31.59,"y":618},{"s":"R3","x":31.7,"y":632},{"s":"R3","x":31.84,"y":628},{"s":"R3","x":31.95,"y":612},{"s":"R3","x":32.1,"y":625},{"s":"R3","x":32.2,"y":635},{"s":"R3","x":32.35,"y":632},{"s":"R3","x":32.5,"y":612},{"s":"R3","x":32.61,"y":622},{"s":"R3","x":32.75,"y":640},{"s":"R3","x":32.86,"y":635},{"s":"R3","x":33.0,"y":610},{"s":"R3","x":33.11,"y":618},{"s":"R3","x":33.25,"y":640},{"s":"R3","x":33.37,"y":628},{"s":"R3","x":33.5,"y":600},{"s":"R3","x":33.62,"y":608},{"s":"R3","x":33.7,"y":640},{"s":"R3","x":33.8,"y":668},{"s":"R3","x":33.88,"y":612},{"s":"R3","x":33.96,"y":612},{"s":"R3","x":34.05,"y":640},{"s":"R3","x":34.13,"y":652},{"s":"R3","x":34.22,"y":605},{"s":"R3","x":34.31,"y":625},{"s":"R3","x":34.4,"y":650},{"s":"R3","x":34.51,"y":645},{"s":"R3","x":34.6,"y":600},{"s":"R3","x":34.72,"y":608},{"s":"R3","x":34.8,"y":645},{"s":"R3","x":34.9,"y":638},{"s":"R3","x":35.0,"y":595},{"s":"R3","x":35.08,"y":592},{"s":"R3","x":35.18,"y":650},{"s":"R3","x":35.28,"y":632},{"s":"R3","x":35.38,"y":585},{"s":"R3","x":35.48,"y":652},{"s":"R3","x":35.57,"y":600},{"s":"R3","x":35.66,"y":602},{"s":"R3","x":35.72,"y":660},{"s":"R3","x":35.79,"y":578},{"s":"R3","x":35.88,"y":620},{"s":"R3","x":35.99,"y":645},{"s":"R3","x":36.08,"y":580},{"s":"R3","x":36.17,"y":678},{"s":"R3","x":36.24,"y":590},{"s":"R3","x":36.3,"y":598},{"s":"R3","x":36.38,"y":665},{"s":"R3","x":36.45,"y":638},{"s":"R3","x":36.52,"y":575},{"s":"R3","x":36.6,"y":658},{"s":"R3","x":36.66,"y":545},{"s":"R3","x":36.72,"y":640},{"s":"R3","x":36.8,"y":625},{"s":"R3","x":36.87,"y":590},{"s":"R3","x":36.93,"y":642},
{"s":"R4","x":5.25,"y":207},{"s":"R4","x":5.76,"y":207},{"s":"R4","x":6.14,"y":209},{"s":"R4","x":6.27,"y":215},{"s":"R4","x":6.4,"y":208},{"s":"R4","x":6.78,"y":210},{"s":"R4","x":7.16,"y":213},{"s":"R4","x":7.54,"y":218},{"s":"R4","x":7.8,"y":216},{"s":"R4","x":8.18,"y":212},{"s":"R4","x":8.56,"y":215},{"s":"R4","x":8.81,"y":212},{"s":"R4","x":9.2,"y":210},{"s":"R4","x":9.71,"y":211},{"s":"R4","x":10.21,"y":213},{"s":"R4","x":10.6,"y":217},{"s":"R4","x":10.98,"y":222},{"s":"R4","x":11.23,"y":230},{"s":"R4","x":11.49,"y":225},{"s":"R4","x":11.87,"y":226},{"s":"R4","x":12.25,"y":227},{"s":"R4","x":12.63,"y":228},{"s":"R4","x":12.76,"y":230},{"s":"R4","x":13.01,"y":228},{"s":"R4","x":13.39,"y":230},{"s":"R4","x":13.78,"y":232},{"s":"R4","x":13.92,"y":233},{"s":"R4","x":13.97,"y":null},{"s":"R4","x":14.02,"y":234},{"s":"R4","x":14.16,"y":235},{"s":"R4","x":14.67,"y":242},{"s":"R4","x":15.3,"y":250},{"s":"R4","x":15.94,"y":260},{"s":"R4","x":16.58,"y":270},{"s":"R4","x":17.21,"y":280},{"s":"R4","x":17.85,"y":287},{"s":"R4","x":18.48,"y":292},{"s":"R4","x":19.12,"y":300},{"s":"R4","x":19.63,"y":310},{"s":"R4","x":20.14,"y":317},{"s":"R4","x":20.65,"y":320},{"s":"R4","x":21.03,"y":327},{"s":"R4","x":21.41,"y":333},{"s":"R4","x":21.79,"y":338},{"s":"R4","x":22.17,"y":342},{"s":"R4","x":22.56,"y":350},{"s":"R4","x":22.94,"y":358},{"s":"R4","x":23.32,"y":370},{"s":"R4","x":23.7,"y":385},{"s":"R4","x":23.95,"y":398},{"s":"R4","x":24.21,"y":412},{"s":"R4","x":24.46,"y":425},{"s":"R4","x":24.97,"y":458},{"s":"R4","x":25.35,"y":485},{"s":"R4","x":25.74,"y":502},{"s":"R4","x":26.12,"y":518},{"s":"R4","x":26.5,"y":532},{"s":"R4","x":26.88,"y":538},{"s":"R4","x":27.26,"y":545},{"s":"R4","x":27.64,"y":553},{"s":"R4","x":28.03,"y":562},{"s":"R4","x":28.41,"y":565},{"s":"R4","x":28.92,"y":566},{"s":"R4","x":29.42,"y":567},{"s":"R4","x":29.93,"y":567},{"s":"R4","x":30.32,"y":565},{"s":"R4","x":30.57,"y":568},{"s":"R4","x":30.9,"y":569},{"s":"R4","x":31.08,"y":562},{"s":"R4","x":31.33,"y":555},{"s":"R4","x":31.71,"y":557},{"s":"R4","x":31.97,"y":552},{"s":"R4","x":32.35,"y":550},{"s":"R4","x":32.73,"y":548},{"s":"R4","x":32.99,"y":545},{"s":"R4","x":33.24,"y":550},{"s":"R4","x":33.5,"y":545},{"s":"R4","x":33.75,"y":543},{"s":"R4","x":34.01,"y":538},{"s":"R4","x":34.39,"y":532},{"s":"R4","x":34.77,"y":523},{"s":"R4","x":35.07,"y":520},{"s":"R4","x":35.28,"y":510},{"s":"R4","x":35.53,"y":520},{"s":"R4","x":35.73,"y":508},{"s":"R4","x":35.92,"y":515},{"s":"R4","x":36.17,"y":498},{"s":"R4","x":36.42,"y":495},{"s":"R4","x":36.68,"y":488},{"s":"R4","x":36.93,"y":477},{"s":"R4","x":37.06,"y":483},{"s":"R4","x":37.19,"y":470},{"s":"R4","x":37.36,"y":458},
{"s":"R5","x":5.25,"y":8},{"s":"R5","x":5.76,"y":9},{"s":"R5","x":6.14,"y":12},{"s":"R5","x":6.27,"y":20},{"s":"R5","x":6.4,"y":12},{"s":"R5","x":6.78,"y":12},{"s":"R5","x":7.16,"y":17},{"s":"R5","x":7.54,"y":23},{"s":"R5","x":7.8,"y":21},{"s":"R5","x":8.18,"y":15},{"s":"R5","x":8.56,"y":18},{"s":"R5","x":8.94,"y":14},{"s":"R5","x":9.45,"y":12},{"s":"R5","x":9.96,"y":13},{"s":"R5","x":10.34,"y":17},{"s":"R5","x":10.72,"y":20},{"s":"R5","x":11.1,"y":27},{"s":"R5","x":11.28,"y":33},{"s":"R5","x":11.49,"y":27},{"s":"R5","x":11.87,"y":28},{"s":"R5","x":12.25,"y":30},{"s":"R5","x":12.63,"y":30},{"s":"R5","x":12.83,"y":35},{"s":"R5","x":13.01,"y":28},{"s":"R5","x":13.39,"y":30},{"s":"R5","x":13.78,"y":35},{"s":"R5","x":14.16,"y":42},{"s":"R5","x":14.67,"y":50},{"s":"R5","x":15.0,"y":53},{"s":"R5","x":15.18,"y":58},{"s":"R5","x":15.4,"y":60},{"s":"R5","x":15.68,"y":65},{"s":"R5","x":15.9,"y":67},{"s":"R5","x":16.19,"y":72},{"s":"R5","x":16.4,"y":72},{"s":"R5","x":16.7,"y":77},{"s":"R5","x":16.9,"y":78},{"s":"R5","x":17.21,"y":82},{"s":"R5","x":17.5,"y":82},{"s":"R5","x":17.72,"y":85},{"s":"R5","x":18.0,"y":90},{"s":"R5","x":18.23,"y":92},{"s":"R5","x":18.5,"y":94},{"s":"R5","x":18.74,"y":97},{"s":"R5","x":18.95,"y":98},{"s":"R5","x":19.12,"y":102},{"s":"R5","x":19.25,"y":100},{"s":"R5","x":19.37,"y":108},{"s":"R5","x":19.5,"y":105},{"s":"R5","x":19.63,"y":112},{"s":"R5","x":19.75,"y":114},{"s":"R5","x":19.88,"y":117},{"s":"R5","x":19.95,"y":null},{"s":"R5","x":20.02,"y":119},{"s":"R5","x":20.27,"y":123},{"s":"R5","x":20.5,"y":127},{"s":"R5","x":20.77,"y":132},{"s":"R5","x":21.0,"y":134},{"s":"R5","x":21.28,"y":138},{"s":"R5","x":21.5,"y":142},{"s":"R5","x":21.79,"y":145},{"s":"R5","x":22.0,"y":148},{"s":"R5","x":22.3,"y":152},{"s":"R5","x":22.55,"y":155},{"s":"R5","x":22.81,"y":158},{"s":"R5","x":23.05,"y":162},{"s":"R5","x":23.27,"y":165},{"s":"R5","x":23.52,"y":170},{"s":"R5","x":23.57,"y":173},{"s":"R5","x":23.6,"y":null},{"s":"R5","x":23.64,"y":178},{"s":"R5","x":23.7,"y":182},{"s":"R5","x":23.95,"y":195},{"s":"R5","x":24.15,"y":200},{"s":"R5","x":24.34,"y":205},{"s":"R5","x":24.55,"y":212},{"s":"R5","x":24.72,"y":218},{"s":"R5","x":24.97,"y":228},{"s":"R5","x":25.03,"y":233},{"s":"R5","x":25.07,"y":null},{"s":"R5","x":25.12,"y":242},{"s":"R5","x":25.18,"y":248},{"s":"R5","x":25.3,"y":254},{"s":"R5","x":25.48,"y":258},{"s":"R5","x":25.65,"y":265},{"s":"R5","x":25.86,"y":268},{"s":"R5","x":26.05,"y":272},{"s":"R5","x":26.25,"y":273},{"s":"R5","x":26.45,"y":276},{"s":"R5","x":26.63,"y":278},{"s":"R5","x":26.85,"y":282},{"s":"R5","x":27.01,"y":285},{"s":"R5","x":27.12,"y":288},{"s":"R5","x":27.18,"y":null},{"s":"R5","x":27.26,"y":300},{"s":"R5","x":27.39,"y":305},{"s":"R5","x":27.55,"y":310},{"s":"R5","x":27.77,"y":315},{"s":"R5","x":27.95,"y":316},{"s":"R5","x":28.15,"y":318},{"s":"R5","x":28.35,"y":322},{"s":"R5","x":28.53,"y":325},{"s":"R5","x":28.7,"y":327},{"s":"R5","x":28.92,"y":330},{"s":"R5","x":28.98,"y":null},{"s":"R5","x":29.04,"y":348},{"s":"R5","x":29.15,"y":340},{"s":"R5","x":29.3,"y":345},{"s":"R5","x":29.42,"y":352},{"s":"R5","x":29.55,"y":362},{"s":"R5","x":29.6,"y":340},{"s":"R5","x":29.68,"y":335},{"s":"R5","x":29.78,"y":350},{"s":"R5","x":29.88,"y":345},{"s":"R5","x":30.0,"y":335},{"s":"R5","x":30.14,"y":338},{"s":"R5","x":30.25,"y":352},{"s":"R5","x":30.39,"y":352},{"s":"R5","x":30.5,"y":336},{"s":"R5","x":30.65,"y":328},{"s":"R5","x":30.75,"y":342},{"s":"R5","x":30.82,"y":345},{"s":"R5","x":30.92,"y":330},{"s":"R5","x":31.0,"y":328},{"s":"R5","x":31.08,"y":350},{"s":"R5","x":31.15,"y":368},{"s":"R5","x":31.25,"y":345},{"s":"R5","x":31.33,"y":378},{"s":"R5","x":31.42,"y":340},{"s":"R5","x":31.51,"y":325},{"s":"R5","x":31.6,"y":340},{"s":"R5","x":31.71,"y":348},{"s":"R5","x":31.85,"y":330},{"s":"R5","x":31.97,"y":335},{"s":"R5","x":32.1,"y":350},{"s":"R5","x":32.22,"y":345},{"s":"R5","x":32.35,"y":330},{"s":"R5","x":32.48,"y":338},{"s":"R5","x":32.6,"y":348},{"s":"R5","x":32.73,"y":342},{"s":"R5","x":32.85,"y":322},{"s":"R5","x":32.99,"y":328},{"s":"R5","x":33.1,"y":340},{"s":"R5","x":33.24,"y":318},{"s":"R5","x":33.3,"y":340},{"s":"R5","x":33.37,"y":298},{"s":"R5","x":33.45,"y":345},{"s":"R5","x":33.55,"y":362},{"s":"R5","x":33.62,"y":330},{"s":"R5","x":33.7,"y":342},{"s":"R5","x":33.77,"y":310},{"s":"R5","x":33.83,"y":400},{"s":"R5","x":33.9,"y":335},{"s":"R5","x":33.96,"y":325},{"s":"R5","x":34.05,"y":350},{"s":"R5","x":34.13,"y":372},{"s":"R5","x":34.22,"y":330},{"s":"R5","x":34.31,"y":318},{"s":"R5","x":34.4,"y":345},{"s":"R5","x":34.51,"y":352},{"s":"R5","x":34.6,"y":320},{"s":"R5","x":34.72,"y":325},{"s":"R5","x":34.8,"y":355},{"s":"R5","x":34.9,"y":362},{"s":"R5","x":34.98,"y":300},{"s":"R5","x":35.07,"y":272},{"s":"R5","x":35.15,"y":340},{"s":"R5","x":35.23,"y":335},{"s":"R5","x":35.32,"y":305},{"s":"R5","x":35.41,"y":318},{"s":"R5","x":35.5,"y":350},{"s":"R5","x":35.58,"y":342},{"s":"R5","x":35.65,"y":295},{"s":"R5","x":35.73,"y":372},{"s":"R5","x":35.82,"y":310},{"s":"R5","x":35.92,"y":232},{"s":"R5","x":35.98,"y":330},{"s":"R5","x":36.04,"y":298},{"s":"R5","x":36.1,"y":360},{"s":"R5","x":36.17,"y":342},{"s":"R5","x":36.24,"y":290},{"s":"R5","x":36.3,"y":392},{"s":"R5","x":36.36,"y":300},{"s":"R5","x":36.42,"y":282},{"s":"R5","x":36.48,"y":355},{"s":"R5","x":36.55,"y":358},{"s":"R5","x":36.6,"y":260},{"s":"R5","x":36.65,"y":470},{"s":"R5","x":36.7,"y":300},{"s":"R5","x":36.75,"y":208},{"s":"R5","x":36.8,"y":290},{"s":"R5","x":36.85,"y":315},{"s":"R5","x":36.9,"y":270},{"s":"R5","x":36.93,"y":298}
],
"leftLabels": [
{"a":"2MASS J05122821 − 6907556,\u00a0 T","c":"= 151 K","xb":19.31,"y":1019.5},
{"a":"IRAS F05192 − 7008,\u00a0 T","c":"= 148 K","xb":14.93,"y":832},
{"a":"IRAS 05413 − 6934,\u00a0 T","c":"= 148 K","xb":14.89,"y":620.5},
{"a":"IRAS F05110 − 6616,\u00a0 T","c":"= 145 K","xb":15.52,"y":482},
{"a":"IRAS 16296 − 4507,\u00a0 T","c":"= 142 K","xb":14.89,"y":261.5},
{"a":"IRAS 15038 − 5533,\u00a0 T","c":"= 139 K","xb":14.89,"y":116.5}
],
"rightLabels": [
{"a":"IRAS 11339 − 6004,\u00a0 T","c":"= 138 K","xb":14.89,"y":932},
{"a":"IRAS 14325 − 6428,\u00a0 T","c":"= 136 K","xb":14.89,"y":615},
{"a":"IRAS 22574 + 6609,\u00a0 T","c":"= 135 K","xb":14.89,"y":458},
{"a":"IRAS 12145 − 5834,\u00a0 T","c":"= 126 K","xb":14.89,"y":300.5},
{"a":"IRAS 15229 − 5433,\u00a0 T","c":"= 124 K","xb":14.89,"y":109}
]
},
"hconcat": [
{
 "width": 445, "height": 1180,
 "encoding": {
   "y": {"field": "y", "type": "quantitative", "scale": {"domain": [0, 1180], "nice": false, "zero": false},
     "axis": {"title": "F\u1d65 (normalised) + Const.", "labels": false, "ticks": false, "titleFontSize": 17.5, "titlePadding": 15}}
 },
 "layer": [
  {"data": {"name": "left"},
   "mark": {"type": "line", "color": "black", "strokeWidth": 2.3, "strokeJoin": "round"},
   "encoding": {
     "x": {"field": "x", "type": "quantitative", "scale": {"domain": [4, 38], "nice": false, "zero": false},
       "axis": {"orient": "bottom", "title": "λ (μm)", "titleFontSize": 17, "titlePadding": 0, "values": [5,10,15,20,25,30,35], "ticks": true, "tickColor": "black", "tickWidth": 1.6, "offset": -8, "tickSize": 8, "labelPadding": 9}},
     "detail": {"field": "s"}
   }},
  {"data": {"name": "leftLabels"},
   "mark": {"type": "text", "align": "right", "baseline": "alphabetic", "font": "Liberation Serif", "fontWeight": "bold", "fontSize": 13.3, "color": "black"},
   "encoding": {
     "x": {"field": "xb", "type": "quantitative", "axis": {"orient": "top", "title": null, "labels": false, "values": [5,10,15,20,25,30,35], "ticks": true, "tickColor": "black", "tickWidth": 1.6, "offset": -8, "tickSize": 8}},
     "text": {"field": "a"}
   }},
  {"data": {"name": "leftLabels"},
   "mark": {"type": "text", "align": "left", "baseline": "alphabetic", "font": "Liberation Serif", "fontWeight": "bold", "fontSize": 9.5, "color": "black", "dx": 0.7, "dy": 3.5},
   "encoding": {
     "x": {"field": "xb", "type": "quantitative", "axis": {"orient": "bottom", "title": null, "labels": false, "values": [5,6,7,8,9,10,11,12,13,14,15,16,17,18,19,20,21,22,23,24,25,26,27,28,29,30,31,32,33,34,35,36,37], "ticks": true, "tickColor": "black", "tickWidth": 1.6, "offset": -4, "tickSize": 4}},
     "text": {"value": "d"}
   }},
  {"data": {"name": "leftLabels"},
   "mark": {"type": "text", "align": "left", "baseline": "alphabetic", "font": "Liberation Serif", "fontWeight": "bold", "fontSize": 13.3, "color": "black", "dx": 8.3},
   "encoding": {
     "x": {"field": "xb", "type": "quantitative", "axis": {"orient": "top", "title": null, "labels": false, "values": [5,6,7,8,9,10,11,12,13,14,15,16,17,18,19,20,21,22,23,24,25,26,27,28,29,30,31,32,33,34,35,36,37], "ticks": true, "tickColor": "black", "tickWidth": 1.6, "offset": -4, "tickSize": 4}},
     "text": {"field": "c"}
   }}
 ],
 "resolve": {"axis": {"x": "independent"}}
},
{
 "width": 445, "height": 1180,
 "encoding": {
   "y": {"field": "y", "type": "quantitative", "scale": {"domain": [0, 1180], "nice": false, "zero": false}, "axis": null}
 },
 "layer": [
  {"data": {"name": "right"},
   "mark": {"type": "line", "color": "black", "strokeWidth": 2.3, "strokeJoin": "round"},
   "encoding": {
     "x": {"field": "x", "type": "quantitative", "scale": {"domain": [4, 38], "nice": false, "zero": false},
       "axis": {"orient": "bottom", "title": "λ (μm)", "titleFontSize": 17, "titlePadding": 0, "values": [5,10,15,20,25,30,35], "ticks": true, "tickColor": "black", "tickWidth": 1.6, "offset": -8, "tickSize": 8, "labelPadding": 9}},
     "detail": {"field": "s"}
   }},
  {"data": {"name": "rightLabels"},
   "mark": {"type": "text", "align": "right", "baseline": "alphabetic", "font": "Liberation Serif", "fontWeight": "bold", "fontSize": 13.3, "color": "black"},
   "encoding": {
     "x": {"field": "xb", "type": "quantitative", "axis": {"orient": "top", "title": null, "labels": false, "values": [5,10,15,20,25,30,35], "ticks": true, "tickColor": "black", "tickWidth": 1.6, "offset": -8, "tickSize": 8}},
     "text": {"field": "a"}
   }},
  {"data": {"name": "rightLabels"},
   "mark": {"type": "text", "align": "left", "baseline": "alphabetic", "font": "Liberation Serif", "fontWeight": "bold", "fontSize": 9.5, "color": "black", "dx": 0.7, "dy": 3.5},
   "encoding": {
     "x": {"field": "xb", "type": "quantitative", "axis": {"orient": "bottom", "title": null, "labels": false, "values": [5,6,7,8,9,10,11,12,13,14,15,16,17,18,19,20,21,22,23,24,25,26,27,28,29,30,31,32,33,34,35,36,37], "ticks": true, "tickColor": "black", "tickWidth": 1.6, "offset": -4, "tickSize": 4}},
     "text": {"value": "d"}
   }},
  {"data": {"name": "rightLabels"},
   "mark": {"type": "text", "align": "left", "baseline": "alphabetic", "font": "Liberation Serif", "fontWeight": "bold", "fontSize": 13.3, "color": "black", "dx": 8.3},
   "encoding": {
     "x": {"field": "xb", "type": "quantitative", "axis": {"orient": "top", "title": null, "labels": false, "values": [5,6,7,8,9,10,11,12,13,14,15,16,17,18,19,20,21,22,23,24,25,26,27,28,29,30,31,32,33,34,35,36,37], "ticks": true, "tickColor": "black", "tickWidth": 1.6, "offset": -4, "tickSize": 4}},
     "text": {"field": "c"}
   }}
 ],
 "resolve": {"axis": {"x": "independent"}}
}
]
}
